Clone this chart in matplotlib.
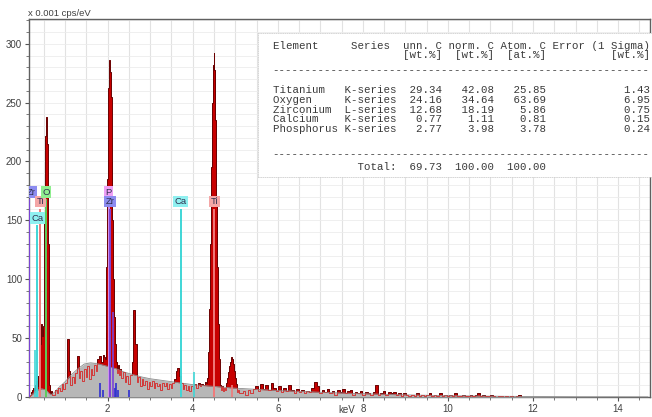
import numpy as np
import matplotlib as mpl
import matplotlib.pyplot as plt

# =============================================================================
# Data
# =============================================================================

# gray bremsstrahlung background (keV, x 0.001 cps/eV)
BG_KEV = [0.15, 0.25, 0.35, 0.45, 0.55, 0.62, 0.68, 0.75, 0.85, 1.0, 1.15, 1.3,
          1.45, 1.6, 1.8, 2.0, 2.2, 2.4, 2.6, 2.8, 3.0, 3.3, 3.6, 4.0, 4.5, 5.0,
          5.5, 6.0, 6.5, 7.0, 7.5, 8.0, 9.0, 10.0, 11.0, 12.0, 13.0, 14.7]
BG_CPS = [0, 3, 6, 7, 6, 3, 2, 4, 8, 13, 19, 24, 28, 29, 28, 26, 24, 21, 19, 17,
          15.5, 14, 12.5, 10.5, 9, 7.5, 6.5, 5.5, 4.8, 4, 3.4, 2.8, 1.8, 1.1, 0.7,
          0.4, 0.2, 0.1]

# measured spectrum, in segments (start keV, channel step, counts)
LOW_START, LOW_STEP = 0.16, 0.02
LOW_CPS = [0, 2, 4, 3, 6, 8, 5, 10, 14, 9, 18, 12, 22, 45, 62, 52, 58, 60, 150,
           222, 238, 215, 130, 45, 10, 3, 5, 2]

MID_START, MID_STEP = 0.74, 0.04
MID_CPS = [2, 6, 3, 8, 5, 11, 7, 12, 49, 22, 10, 17, 12, 20, 35, 16, 22, 14,
           24, 17, 26, 15, 24, 19, 27, 22, 32, 35, 30, 36]

ZR_START, ZR_STEP = 1.92, 0.02
ZR_CPS = [34, 32, 55, 110, 185, 262, 286, 276, 255, 200, 150, 100, 68, 45, 30,
          30, 20, 27, 19, 24]

MID2_START, MID2_STEP = 2.34, 0.04
MID2_CPS = [16, 21, 13, 18, 11, 19, 30, 74, 45, 13, 17, 9, 15, 10, 14, 7, 13,
            9, 14, 8, 12, 9, 11, 6, 12, 9, 12, 7, 11, 8, 12, 15, 22, 25, 18,
            12, 7, 10, 6, 9, 5, 9, 7, 11, 8, 12, 9, 11, 10, 13]

TI_START, TI_STEP = 4.32, 0.02
TI_CPS = [12, 16, 24, 38, 75, 130, 195, 250, 282, 292, 278, 235, 170, 110, 62,
          32, 18, 10, 6, 9, 5, 8, 6, 9, 12, 16, 21, 26, 30, 33, 34, 32, 28, 22,
          16, 11, 7, 4, 6, 3]

TAIL_START, TAIL_STEP = 5.14, 0.06
TAIL_CPS = [3, 5, 2, 6, 3, 7, 9, 5, 11, 7, 10, 6, 12, 8, 5, 9, 4, 8, 5, 10, 6,
            3, 7, 4, 6, 3, 5, 4, 8, 13, 9, 3, 6, 4, 7, 3, 5, 2, 6, 4, 7, 3, 5,
            6, 2, 4, 3, 5, 2, 4, 3, 2, 4, 10, 2, 3, 5, 2, 4, 3, 4, 2, 3, 1, 3,
            2, 1, 2, 1, 3, 1, 2, 1, 2, 3, 1, 2, 1, 3, 1, 2, 1, 2, 1, 3, 1, 1, 2,
            1, 1, 2, 1, 2, 3, 1, 2, 1, 1, 2, 1, 0, 1, 1, 0, 1, 0, 1, 0, 1, 2, 0,
            0, 0, 0, 0]

# element marker lines: label, keV, label height, label x, line colour, box colour
MARK_NAMES = ["Zr", "Ca", "Ti", "O", "P", "Zr", "Ca", "Ti"]
MARK_KEV = [0.15, 0.34, 0.42, 0.55, 2.02, 2.05, 3.72, 4.51]
MARK_TOP = [174, 152, 166, 174, 174, 166, 166, 166]
MARK_LBL_X = [0.2, 0.34, 0.42, 0.55, 2.02, 2.05, 3.72, 4.51]
MARK_LINE = ["#7b44d6", "#3fd6d6", "#f07a7a", "#5ccf5c", "#cf8ff0", "#7b44d6",
             "#3fd6d6", "#f07a7a"]
MARK_BOX = ["#8c8cf0", "#8ff0f0", "#f4a6a6", "#8fee8f", "#eea0f6", "#8c8cf0",
            "#8ff0f0", "#f4a6a6"]

# small family lines without labels
MINOR_KEV = [0.30, 1.81, 1.88, 2.12, 2.17, 2.20, 2.25, 2.50, 4.02, 4.93]
MINOR_TOP = [40, 12, 6, 72, 8, 12, 6, 6, 21, 10]
MINOR_COL = ["#3fd6d6", "#2f2fd0", "#2f2fd0", "#7b44d6", "#2f2fd0", "#2f2fd0",
             "#2f2fd0", "#2f2fd0", "#3fd6d6", "#f07a7a"]

# quantification table
ELEMENTS = ["Titanium", "Oxygen", "Zirconium", "Calcium", "Phosphorus"]
SERIES = ["K-series", "K-series", "L-series", "K-series", "K-series"]
UNN_C = [29.34, 24.16, 12.68, 0.77, 2.77]
NORM_C = [42.08, 34.64, 18.19, 1.11, 3.98]
ATOM_C = [25.85, 63.69, 5.86, 0.81, 3.78]
ERR_1S = [1.43, 6.95, 0.75, 0.15, 0.24]
TOTALS = [69.73, 100.00, 100.00]

# =============================================================================
# Build spectrum
# =============================================================================

segments = [(LOW_START, LOW_STEP, LOW_CPS), (MID_START, MID_STEP, MID_CPS),
            (ZR_START, ZR_STEP, ZR_CPS), (MID2_START, MID2_STEP, MID2_CPS),
            (TI_START, TI_STEP, TI_CPS), (TAIL_START, TAIL_STEP, TAIL_CPS)]
spec_kev = np.concatenate([s + st * np.arange(len(v)) for s, st, v in segments])
spec_cps = np.concatenate([np.asarray(v, float) for _, _, v in segments])

# =============================================================================
# Plot
# =============================================================================

mpl.rcParams["font.family"] = ["Liberation Sans", "DejaVu Sans"]
fig = plt.figure(figsize=(6.52, 4.17), dpi=100)
ax = fig.add_axes([29 / 652, 20 / 417, 621 / 652, 378 / 417])
ax.set_xlim(0.15, 14.75)
ax.set_ylim(0, 321)

# grid
for x in np.arange(0.5, 15, 0.5):
    ax.axvline(x, color="#e2e2e2", lw=0.8, zorder=0)
for y in np.arange(10, 321, 10):
    ax.axhline(y, color="#ececec", lw=0.6, zorder=0)

# measured spectrum (red) below the background fill
ax.fill_between(spec_kev, 0, spec_cps, step="mid", color="#c80000", lw=0, zorder=2)
ax.step(spec_kev, spec_cps, where="mid", color="#6a0000", lw=0.7, zorder=2.1)

# background
bg = ax.fill_between(BG_KEV, 0, BG_CPS, color="#b7b7b7", lw=0, zorder=3)
ax.plot(BG_KEV, BG_CPS, color="#8c8c8c", lw=0.6, zorder=3.1)

# spectrum trace seen through the background
trace, = ax.step(spec_kev, spec_cps, where="mid", color="#d23a3a", lw=0.7, zorder=3.2)
trace.set_clip_path(bg.get_paths()[0], transform=ax.transData)

# element lines and labels
ax.vlines(MINOR_KEV, 0, MINOR_TOP, colors=MINOR_COL, lw=1.2, zorder=4)
ax.vlines(MARK_KEV, 0, [t - 6 for t in MARK_TOP], colors=MARK_LINE, lw=1.4, zorder=4)
for name, x, top, box in zip(MARK_NAMES, MARK_LBL_X, MARK_TOP, MARK_BOX):
    ax.text(x, top, name, fontsize=6.8, color="#303050", ha="center", va="center",
            zorder=6, clip_on=True,
            bbox=dict(boxstyle="square,pad=0.15", fc=box, ec="none"))

# axes styling
for sp in ax.spines.values():
    sp.set_color("#606060")
    sp.set_linewidth(1.0)
ax.set_xticks(range(2, 15, 2))
ax.set_xticks(np.arange(0.5, 14.75, 0.5), minor=True)
ax.set_yticks(range(0, 301, 50))
ax.set_yticks(range(0, 321, 10), minor=True)
ax.tick_params(axis="both", which="major", labelsize=7, colors="#555555",
               labelcolor="#404040", length=3, width=0.8, pad=2)
ax.tick_params(axis="both", which="minor", colors="#666666", length=2, width=0.6)
fig.text(347 / 652, 1 - 410 / 417, "keV", fontsize=7, color="#404040",
         ha="center", va="center")
fig.text(28 / 652, 1 - 14 / 417, "x 0.001 cps/eV", fontsize=6.8, color="#404040",
         va="center", ha="left")

# quantification table
table_ax = fig.add_axes([258 / 652, 1 - 177 / 417, 394 / 652, 144 / 417])
table_ax.set_xlim(0, 394)
table_ax.set_ylim(177, 33)
table_ax.set_facecolor("white")
table_ax.set_xticks([])
table_ax.set_yticks([])
for sp in table_ax.spines.values():
    sp.set_color("#d0d0d0")
    sp.set_linestyle(":")
    sp.set_linewidth(0.6)
table_ax.spines["right"].set_visible(False)

lines = ["Element     Series  unn. C norm. C Atom. C Error (1 Sigma)",
         "                    [wt.%]  [wt.%]  [at.%]          [wt.%]",
         "-" * 58]
for el, se, u, n, a, e in zip(ELEMENTS, SERIES, UNN_C, NORM_C, ATOM_C, ERR_1S):
    lines.append(f"{el:<11}{se:<8}{u:>7.2f}{n:>8.2f}{a:>8.2f}{e:>16.2f}")
lines.append("-" * 58)
lines.append(f"{'Total:':>19}{TOTALS[0]:>7.2f}{TOTALS[1]:>8.2f}{TOTALS[2]:>8.2f}")

row_y = [46, 55, 70, 90, 100, 110, 119.5, 129, 154, 167]
for txt, y in zip(lines, row_y):
    table_ax.text(14.7, y, txt, family="Liberation Mono", fontsize=7.75,
                  color="#3a3a3a", va="center", ha="left")

fig.savefig("out.png", dpi=100)
